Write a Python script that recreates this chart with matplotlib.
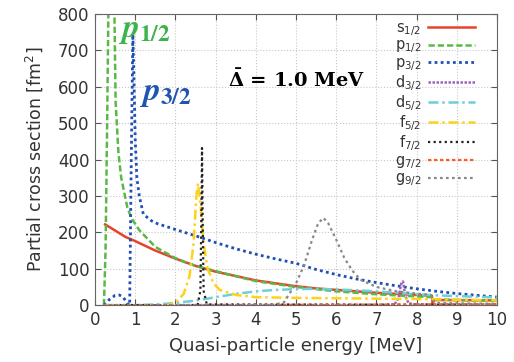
import matplotlib

matplotlib.use("Agg")
import matplotlib.pyplot as plt

plt.rcParams["font.family"] = ["DejaVu Sans"]
plt.rcParams["mathtext.fontset"] = "dejavusans"

# partial cross sections (E in MeV, sigma in fm^2)
s12_E = [0.25, 0.5, 0.75, 1.0, 1.5, 2.0, 2.5, 3.0, 3.5, 4.0, 4.5, 5.0, 5.5, 6.0, 6.5, 7.0,
         7.5, 8.0, 8.38, 8.40, 8.42, 9.0, 10.0]
s12_S = [222, 205, 188, 176, 150, 128, 108, 92, 80, 68, 60, 52, 46, 42, 38, 34,
         31, 28, 26, 0, 14, 14, 13]

p12_E = [0.22, 0.26, 0.30, 0.34, 0.40, 0.47, 0.51, 0.58, 0.65, 0.8, 0.9, 1.1, 1.5, 1.95,
         2.3, 2.7, 3.2, 4.0, 5.0, 6.0, 7.0, 8.0, 8.38, 8.42, 9.0, 10.0]
p12_S = [0, 150, 500, 900, 1200, 900, 560, 420, 350, 270, 240, 206, 160, 132,
         115, 102, 88, 66, 50, 38, 30, 24, 22, 16, 14, 12]

p32_E = [0.22, 0.35, 0.5, 0.6, 0.7, 0.8, 0.86, 0.9, 0.94, 0.97, 1.0, 1.04, 1.1, 1.2, 1.4,
         1.55, 2.0, 2.6, 3.0, 3.5, 4.0, 4.5, 5.0, 5.5, 6.0, 6.5, 7.0, 7.5, 8.0, 8.5, 9.0,
         9.5, 10.0]
p32_S = [0, 15, 27, 28, 22, 5, 0, 400, 745, 600, 450, 350, 300, 250, 232,
         224, 208, 187, 172, 155, 140, 127, 115, 98, 84, 72, 62, 53, 45, 38, 32,
         27, 22]

d32_E = [0.2, 7.0, 7.45, 7.55, 7.62, 7.66, 7.72, 7.8, 8.0, 10.0]
d32_S = [0, 0, 2, 20, 62, 65, 25, 5, 2, 1]

d52_E = [0.2, 1.0, 1.5, 2.0, 2.6, 3.0, 3.5, 4.0, 4.5, 5.0, 5.5, 6.0, 6.5, 7.0, 7.5, 8.0,
         8.5, 9.0, 9.5, 10.0]
d52_S = [0, 0, 2, 6, 14, 22, 31, 38, 42, 44, 45, 43, 41, 38, 34, 30,
         27, 25, 23, 21]

f52_E = [0.2, 1.8, 2.0, 2.2, 2.35, 2.45, 2.52, 2.56, 2.62, 2.7, 2.8, 2.95, 3.1, 3.5, 4.0,
         5.0, 6.0, 7.0, 8.0, 9.0, 10.0]
f52_S = [0, 0, 8, 30, 80, 170, 300, 335, 280, 170, 100, 60, 42, 28, 22,
         20, 19, 18, 17, 15, 13]

f72_E = [0.2, 2.55, 2.62, 2.645, 2.66, 2.675, 2.70, 2.78, 10.0]
f72_S = [0, 0, 40, 250, 432, 250, 40, 2, 1]

g72_E = [0.2, 5.0, 8.0, 10.0]
g72_S = [0, 1, 2, 3]

g92_E = [0.2, 4.4, 4.7, 5.0, 5.2, 5.4, 5.55, 5.68, 5.8, 6.0, 6.2, 6.4, 6.6, 7.0, 7.5,
         8.0, 8.35, 8.45, 9.0, 10.0]
g92_S = [0, 0, 8, 60, 110, 180, 225, 240, 225, 180, 130, 95, 70, 50, 38,
         32, 28, 6, 5, 4]

series = [
    (s12_E, s12_S, r"s$_{1/2}$", "#e8412c", "-", 1.8),
    (p12_E, p12_S, r"p$_{1/2}$", "#5ab946", (0, (2.5, 1.2)), 1.8),
    (p32_E, p32_S, r"p$_{3/2}$", "#1f4fb5", (0, (1, 1.2)), 2.0),
    (d32_E, d32_S, r"d$_{3/2}$", "#9b63c0", (0, (1, 0.6)), 1.8),
    (d52_E, d52_S, r"d$_{5/2}$", "#6fcfd6", (0, (4, 1.5, 1, 1.5)), 1.8),
    (f52_E, f52_S, r"f$_{5/2}$", "#ffd21a", (0, (4, 1.5, 1, 1.5)), 1.8),
    (f72_E, f72_S, r"f$_{7/2}$", "#222222", (0, (1, 1.5)), 1.6),
    (g72_E, g72_S, r"g$_{7/2}$", "#ff5a1f", (0, (1.5, 1.2)), 1.6),
    (g92_E, g92_S, r"g$_{9/2}$", "#888888", (0, (1.2, 1.5)), 1.6),
]

fig = plt.figure(figsize=(5.14, 3.62), dpi=100)
ax = fig.add_axes([0.185, 0.157, 0.782, 0.804])

for E, S, lab, col, ls, lw in series:
    ax.plot(E, S, color=col, ls=ls, lw=lw, label=lab)

ax.set_xlim(0, 10)
ax.set_ylim(0, 800)
ax.set_xticks(range(0, 11))
ax.set_yticks(range(0, 801, 100))
ax.grid(True, color="#c8c8c8", ls=":", lw=0.8)
ax.tick_params(direction="in", top=True, right=True, labelsize=12, length=4,
               color="#555555", labelcolor="#333333", pad=4)
for sp in ax.spines.values():
    sp.set_color("#666666")
ax.set_xlabel("Quasi-particle energy [MeV]", fontsize=13, color="#333333", labelpad=6)
ax.set_ylabel(r"Partial cross section [fm$^2$]", fontsize=12.5, color="#333333", labelpad=9)

leg = ax.legend(loc="upper right", frameon=False, markerfirst=False, fontsize=10.5,
                handlelength=3.2, labelspacing=0.0, borderaxespad=0.0,
                handletextpad=0.5, bbox_to_anchor=(0.96, 1.0))
for t in leg.get_texts():
    t.set_color("#333333")

ax.text(0.56, 736, r"$\mathbfit{p}_{\mathbf{1/2}}$", color="#3cb44b", fontsize=24,
        math_fontfamily="stix")
ax.text(1.1, 563, r"$\mathbfit{p}_{\mathbf{3/2}}$", color="#1f55b0", fontsize=24,
        math_fontfamily="stix")
ax.text(3.3, 600, r"$\mathbf{\bar{\Delta}}$ = 1.0 MeV", fontsize=14,
        family="DejaVu Serif", fontweight="bold", math_fontfamily="dejavuserif")

fig.savefig("out.png", dpi=100)
